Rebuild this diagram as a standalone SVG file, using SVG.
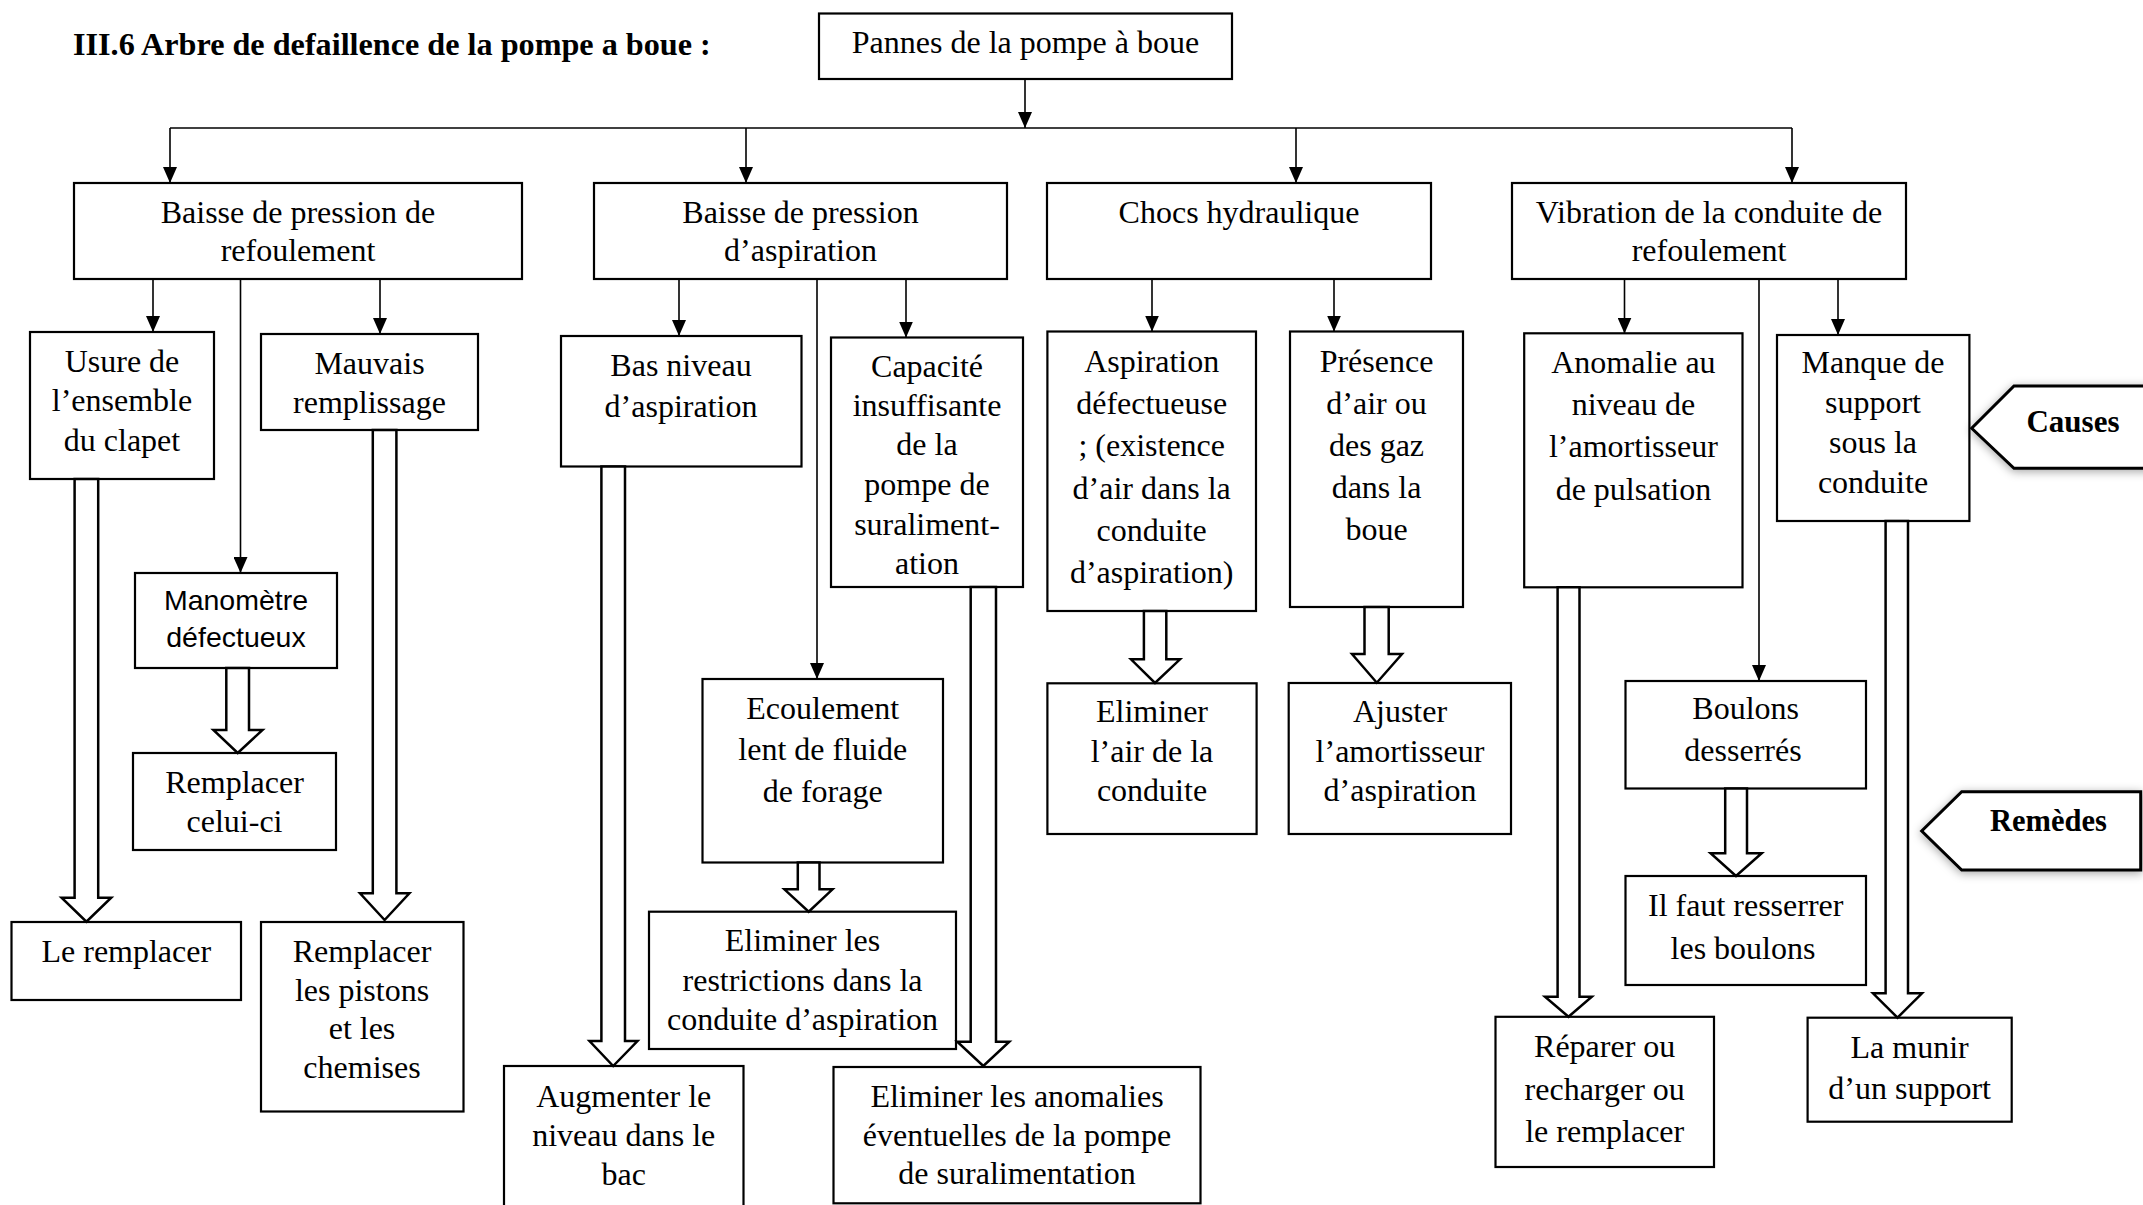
<svg xmlns="http://www.w3.org/2000/svg" width="2143" height="1205" viewBox="0 0 2143 1205">
<style>
.box{fill:#fff;stroke:#000;stroke-width:2.2}
.t{font-family:"Liberation Serif","Times New Roman",serif;font-size:32px;text-anchor:middle;fill:#000}
.s{font-family:"Liberation Sans",Arial,sans-serif;font-size:28.5px;text-anchor:middle;fill:#000}
.b{font-family:"Liberation Serif","Times New Roman",serif;font-weight:bold;fill:#000}
.c{stroke:#000;stroke-width:1.6;fill:none}
.h{fill:#fff;stroke:#000;stroke-width:2.5;stroke-linejoin:miter}
.tag{fill:#fff;stroke:#000;stroke-width:3;filter:url(#sh)}
</style>
<defs>
<marker id="ah" viewBox="0 0 16 14" refX="16" refY="7" markerWidth="16" markerHeight="14" orient="auto" markerUnits="userSpaceOnUse"><path d="M0,0 L16,7 L0,14 Z" fill="#000"/></marker>
<filter id="sh" x="-20%" y="-30%" width="140%" height="160%"><feDropShadow dx="0" dy="2" stdDeviation="5" flood-color="#000" flood-opacity="0.35"/></filter>
</defs>
<rect width="2143" height="1205" fill="#fff"/>
<text class="b" x="73" y="55" font-size="32.2">III.6 Arbre de defaillence de la pompe a boue :</text>

<g id="connectors">
<line class="c" x1="1025" y1="79" x2="1025" y2="128" marker-end="url(#ah)"/>
<line class="c" x1="170" y1="128" x2="1792" y2="128" stroke-width="2"/>
<line class="c" x1="170" y1="128" x2="170" y2="183" marker-end="url(#ah)"/>
<line class="c" x1="746" y1="128" x2="746" y2="183" marker-end="url(#ah)"/>
<line class="c" x1="1296" y1="128" x2="1296" y2="183" marker-end="url(#ah)"/>
<line class="c" x1="1792" y1="128" x2="1792" y2="183" marker-end="url(#ah)"/>
<line class="c" x1="153" y1="279" x2="153" y2="332" marker-end="url(#ah)"/>
<line class="c" x1="240.5" y1="279" x2="240.5" y2="573" marker-end="url(#ah)"/>
<line class="c" x1="380" y1="279" x2="380" y2="334" marker-end="url(#ah)"/>
<line class="c" x1="679" y1="279" x2="679" y2="336" marker-end="url(#ah)"/>
<line class="c" x1="817" y1="279" x2="817" y2="679" marker-end="url(#ah)"/>
<line class="c" x1="906" y1="279" x2="906" y2="337.5" marker-end="url(#ah)"/>
<line class="c" x1="1152" y1="279" x2="1152" y2="331.5" marker-end="url(#ah)"/>
<line class="c" x1="1334" y1="279" x2="1334" y2="331.5" marker-end="url(#ah)"/>
<line class="c" x1="1624.5" y1="279" x2="1624.5" y2="333.5" marker-end="url(#ah)"/>
<line class="c" x1="1759" y1="279" x2="1759" y2="681" marker-end="url(#ah)"/>
<line class="c" x1="1838" y1="279" x2="1838" y2="335" marker-end="url(#ah)"/>
</g>

<g id="n-root"><rect class="box" x="819" y="13.5" width="413" height="65.5"/><text class="t" x="1025.5" y="53">Pannes de la pompe à boue</text></g>

<g id="n-refoulement"><rect class="box" x="74" y="183" width="448" height="96"/><text class="t"><tspan x="298" y="223">Baisse de pression de</tspan><tspan x="298" y="260.5">refoulement</tspan></text></g>
<g id="n-aspiration"><rect class="box" x="594" y="183" width="413" height="96"/><text class="t"><tspan x="800.5" y="223">Baisse de pression</tspan><tspan x="800.5" y="260.5">d’aspiration</tspan></text></g>
<g id="n-chocs"><rect class="box" x="1047" y="183" width="384" height="96"/><text class="t" x="1239" y="223">Chocs hydraulique</text></g>
<g id="n-vibration"><rect class="box" x="1512" y="183" width="394" height="96"/><text class="t"><tspan x="1709" y="223">Vibration de la conduite de</tspan><tspan x="1709" y="260.5">refoulement</tspan></text></g>

<g id="n-usure"><rect class="box" x="30" y="332" width="184" height="147"/><text class="t"><tspan x="122" y="371.5">Usure de</tspan><tspan x="122" y="411">l’ensemble</tspan><tspan x="122" y="450.5">du clapet</tspan></text></g>
<g id="n-mauvais"><rect class="box" x="261" y="334" width="217" height="96"/><text class="t"><tspan x="369.5" y="374">Mauvais</tspan><tspan x="369.5" y="413">remplissage</tspan></text></g>
<g id="n-manometre"><rect class="box" x="135" y="573" width="202" height="95"/><text class="s"><tspan x="236" y="610">Manomètre</tspan><tspan x="236" y="647">défectueux</tspan></text></g>
<g id="n-celui"><rect class="box" x="133" y="753" width="203" height="97"/><text class="t"><tspan x="234.5" y="793">Remplacer</tspan><tspan x="234.5" y="831.5">celui-ci</tspan></text></g>
<g id="n-leremplacer"><rect class="box" x="11.5" y="922" width="229.5" height="78"/><text class="t" x="126.3" y="961.5">Le remplacer</text></g>
<g id="n-pistons"><rect class="box" x="261" y="922" width="202.5" height="189.5"/><text class="t"><tspan x="362" y="961.5">Remplacer</tspan><tspan x="362" y="1000.5">les pistons</tspan><tspan x="362" y="1039">et les</tspan><tspan x="362" y="1078">chemises</tspan></text></g>

<g id="n-basniveau"><rect class="box" x="561" y="336" width="240.5" height="130.5"/><text class="t"><tspan x="681" y="375.5">Bas niveau</tspan><tspan x="681" y="416.5">d’aspiration</tspan></text></g>
<g id="n-capacite"><rect class="box" x="831" y="337.5" width="192" height="249.5"/><text class="t"><tspan x="927" y="376.5">Capacité</tspan><tspan x="927" y="416">insuffisante</tspan><tspan x="927" y="455">de la</tspan><tspan x="927" y="495">pompe de</tspan><tspan x="927" y="534.5">suraliment-</tspan><tspan x="927" y="574">ation</tspan></text></g>
<g id="n-ecoulement"><rect class="box" x="702.5" y="679" width="240.5" height="183.5"/><text class="t"><tspan x="822.7" y="718.5">Ecoulement</tspan><tspan x="822.7" y="760">lent de fluide</tspan><tspan x="822.7" y="802">de forage</tspan></text></g>
<g id="n-restrictions"><rect class="box" x="649" y="911.7" width="307" height="137.3"/><text class="t"><tspan x="802.5" y="951">Eliminer les</tspan><tspan x="802.5" y="990.5">restrictions dans la</tspan><tspan x="802.5" y="1030">conduite d’aspiration</tspan></text></g>
<g id="n-augmenter"><rect class="box" x="504" y="1066" width="239.5" height="160"/><text class="t"><tspan x="623.7" y="1106.5">Augmenter le</tspan><tspan x="623.7" y="1145.5">niveau dans le</tspan><tspan x="623.7" y="1184.5">bac</tspan></text></g>
<g id="n-anomalies"><rect class="box" x="833.5" y="1067" width="367" height="136.3"/><text class="t"><tspan x="1017" y="1106.5">Eliminer les anomalies</tspan><tspan x="1017" y="1145.5">éventuelles de la pompe</tspan><tspan x="1017" y="1183.5">de suralimentation</tspan></text></g>

<g id="n-aspdef"><rect class="box" x="1047.4" y="331.5" width="208.6" height="279.5"/><text class="t"><tspan x="1151.7" y="371.5">Aspiration</tspan><tspan x="1151.7" y="413.8">défectueuse</tspan><tspan x="1151.7" y="456">; (existence</tspan><tspan x="1151.7" y="498.5">d’air dans la</tspan><tspan x="1151.7" y="540.5">conduite</tspan><tspan x="1151.7" y="582.5">d’aspiration)</tspan></text></g>
<g id="n-presence"><rect class="box" x="1290" y="331.5" width="173" height="275.5"/><text class="t"><tspan x="1376.5" y="371.5">Présence</tspan><tspan x="1376.5" y="413.5">d’air ou</tspan><tspan x="1376.5" y="455.5">des gaz</tspan><tspan x="1376.5" y="497.5">dans la</tspan><tspan x="1376.5" y="539.5">boue</tspan></text></g>
<g id="n-eliminerair"><rect class="box" x="1047.4" y="683.3" width="209.2" height="150.7"/><text class="t"><tspan x="1152" y="722">Eliminer</tspan><tspan x="1152" y="762">l’air de la</tspan><tspan x="1152" y="801">conduite</tspan></text></g>
<g id="n-ajuster"><rect class="box" x="1288.7" y="683" width="222.3" height="151"/><text class="t"><tspan x="1400" y="722">Ajuster</tspan><tspan x="1400" y="762">l’amortisseur</tspan><tspan x="1400" y="801">d’aspiration</tspan></text></g>

<g id="n-anomalie"><rect class="box" x="1524.2" y="333.3" width="218.3" height="254"/><text class="t"><tspan x="1633.4" y="372.5">Anomalie au</tspan><tspan x="1633.4" y="414.5">niveau de</tspan><tspan x="1633.4" y="457">l’amortisseur</tspan><tspan x="1633.4" y="499.5">de pulsation</tspan></text></g>
<g id="n-manque"><rect class="box" x="1777" y="335" width="192.4" height="186"/><text class="t"><tspan x="1873" y="373">Manque de</tspan><tspan x="1873" y="412.5">support</tspan><tspan x="1873" y="453">sous la</tspan><tspan x="1873" y="492.5">conduite</tspan></text></g>
<g id="n-boulons"><rect class="box" x="1625.5" y="681" width="240.5" height="107.5"/><text class="t"><tspan x="1745.7" y="719">Boulons</tspan><tspan x="1743" y="761">desserrés</tspan></text></g>
<g id="n-resserrer"><rect class="box" x="1625.5" y="876" width="240.5" height="109"/><text class="t"><tspan x="1745.7" y="915.5">Il faut resserrer</tspan><tspan x="1743" y="959">les boulons</tspan></text></g>
<g id="n-reparer"><rect class="box" x="1495.5" y="1016.8" width="218.5" height="150.2"/><text class="t"><tspan x="1604.7" y="1057">Réparer ou</tspan><tspan x="1604.7" y="1099.5">recharger ou</tspan><tspan x="1604.7" y="1142">le remplacer</tspan></text></g>
<g id="n-munir"><rect class="box" x="1807.6" y="1017.7" width="204.1" height="104"/><text class="t"><tspan x="1909.6" y="1058">La munir</tspan><tspan x="1909.6" y="1099">d’un support</tspan></text></g>

<g id="remedy-arrows">
<path class="h" d="M74.6,479 V897.7 H61.6 L86.4,921.7 L111.2,897.7 H98.2 V479 Z"/>
<path class="h" d="M226.3,668 V730 H213.4 L237.7,753 L262.5,730 H249 V668 Z"/>
<path class="h" d="M372.8,430 V893.3 H360 L384.6,920 L409.4,893.3 H396.4 V430 Z"/>
<path class="h" d="M601.4,466.5 V1041 H589.5 L613.2,1066 L637.5,1041 H625 V466.5 Z"/>
<path class="h" d="M797.8,862.5 V889.3 H784.4 L808.7,911.7 L832.5,889.3 H819.5 V862.5 Z"/>
<path class="h" d="M970.7,587 V1041.7 H957.3 L983.3,1066 L1009.3,1041.7 H996 V587 Z"/>
<path class="h" d="M1143.9,611 V659.3 H1131 L1155,683 L1180,659.3 H1166.3 V611 Z"/>
<path class="h" d="M1364.5,607 V654 H1352 L1376.8,682.7 L1402,654 H1388.7 V607 Z"/>
<path class="h" d="M1557.6,587.3 V996.7 H1545 L1568.5,1016.8 L1591.8,996.7 H1579.5 V587.3 Z"/>
<path class="h" d="M1725.2,788.5 V853.3 H1710.6 L1736,876 L1761.7,853.3 H1747 V788.5 Z"/>
<path class="h" d="M1885.6,521 V993.3 H1873 L1897.5,1017.7 L1922,993.3 H1908 V521 Z"/>
</g>

<g id="tag-causes"><path class="tag" d="M2160,386 H2014 L1971.7,428.3 L2014,468.3 H2160"/><text class="b" x="2073" y="431.5" font-size="31" text-anchor="middle">Causes</text></g>
<g id="tag-remedes"><path class="tag" d="M2140.7,791.7 H1961.7 L1921.7,831 L1961.7,870 H2140.7 Z"/><text class="b" x="2048.5" y="831" font-size="30.5" text-anchor="middle">Remèdes</text></g>
</svg>
